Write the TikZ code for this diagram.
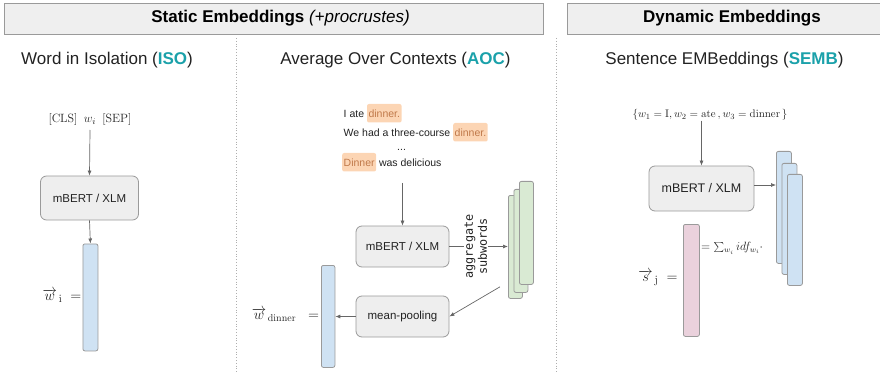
\documentclass[tikz,border=0pt]{standalone}
\usepackage[no-math]{fontspec}
\setmainfont{Liberation Sans}
\newfontfamily\monof{DejaVu Sans Mono}
\usetikzlibrary{arrows.meta,calc}
\definecolor{tealc}{HTML}{1BA1AA}
\definecolor{headfill}{HTML}{EFEFEF}
\definecolor{linegray}{HTML}{9A9A9A}
\definecolor{boxfill}{HTML}{EEEEEE}
\definecolor{arrgray}{HTML}{666666}
\definecolor{bluef}{HTML}{CFE2F3}
\definecolor{greenf}{HTML}{D9EAD3}
\definecolor{pinkf}{HTML}{EAD1DC}
\definecolor{hlfill}{HTML}{FCD5B4}
\definecolor{hltext}{HTML}{C0794A}
\definecolor{txt}{HTML}{222222}
\begin{document}
\begin{tikzpicture}[x=1pt,y=-1pt,
  head/.style={draw=linegray, fill=headfill, line width=0.9pt, inner sep=0pt, anchor=north west},
  title/.style={font=\fontsize{17}{19}\selectfont, text=black, inner sep=0pt},
  sub/.style={font=\fontsize{17}{19}\selectfont, text=txt, inner sep=0pt},
  mbox/.style={draw=linegray, fill=boxfill, rounded corners=6pt, line width=0.8pt, inner sep=0pt, font=\fontsize{11.5}{13}\selectfont, text=txt},
  bar/.style={draw=linegray, rounded corners=2pt, line width=0.8pt, inner sep=0pt, anchor=north west},
  arr/.style={draw=arrgray, line width=0.7pt, -{Latex[length=5pt,width=4pt]}},
  sep/.style={draw=linegray!80, line width=0.8pt, dotted},
  stxt/.style={font=\fontsize{10.5}{12}\selectfont, text=txt, inner sep=0pt, anchor=base west},
  hl/.style={fill=hlfill, rounded corners=2pt, text=hltext, font=\fontsize{10.5}{12}\selectfont, inner xsep=1.5pt, inner ysep=0pt, text height=14pt, text depth=4.5pt, anchor=base west},
  mlab/.style={inner sep=0pt, text=txt}
]
\useasboundingbox (0,0) rectangle (880,374);
\clip (0,0) rectangle (880,374);

% headers
\node[head, minimum width=539pt, minimum height=31pt] (h1) at (4,3) {};
\node[head, minimum width=320pt, minimum height=31pt] (h2) at (567,3) {};
\node[title] (t1) at (280.5,18.5) {\textbf{Static Embeddings} \textit{(+procrustes)}};
\node[title] (t2) at (732,18.5) {\textbf{Dynamic Embeddings}};

% separators
\coordinate (d1a) at (236,38); \coordinate (d1b) at (236,374);
\coordinate (d2a) at (556,38); \coordinate (d2b) at (556,374);
\draw[sep] (d1a) -- (d1b);
\draw[sep] (d2a) -- (d2b);

% subtitles
\node[sub] (st1) at (107,60) {Word in Isolation (\textcolor{tealc}{\textbf{ISO}})};
\node[sub] (st2) at (395.5,60) {Average Over Contexts (\textcolor{tealc}{\textbf{AOC}})};
\node[sub] (st3) at (724.5,60) {Sentence EMBeddings (\textcolor{tealc}{\textbf{SEMB}})};

% ---------- ISO ----------
\node[mlab, font=\fontsize{13}{15}\selectfont] (cls) at (90,120) {$[\mathrm{CLS}]\enspace w_i\enspace[\mathrm{SEP}]$};
\node[mbox, minimum width=98pt, minimum height=44pt] (m1) at (89.5,198) {mBERT / XLM};
\node[bar, fill=bluef, minimum width=15pt, minimum height=107pt] (b1) at (82.5,243.5) {};
\node[mlab, font=\fontsize{15}{17}\selectfont] (wl1) at (62,296) {$\overrightarrow{w}_{\,\mathrm{i}}\;=$};
\draw[arr] (cls.south |- 0,130) -- (m1.north);
\draw[arr] (m1.south) -- (b1.north);

% ---------- AOC ----------
\node[stxt] (s1a) at (343.5,118) {I ate};
\node[hl] (s1b) at ([xshift=2.5pt]s1a.base east) {dinner.};
\node[stxt] (s2a) at (343.5,137) {We had a three-course};
\node[hl] (s2b) at ([xshift=2.5pt]s2a.base east) {dinner.};
\node[stxt] (s3) at (397,151) {...};
\node[hl, text=hltext] (s4a) at (342,167) {Dinner};
\node[stxt] (s4b) at ([xshift=2.5pt]s4a.base east) {was delicious};
\coordinate (sbot) at (402.5,183);

\node[mbox, minimum width=93pt, minimum height=41pt] (m2) at (402.5,246.5) {mBERT / XLM};
\node[mbox, minimum width=93pt, minimum height=41pt] (m3) at (402.5,316.5) {mean-pooling};
\draw[arr] (sbot) -- (m2.north);

\node[bar, fill=greenf, minimum width=14pt, minimum height=103pt] (g1) at (508,195) {};
\node[bar, fill=greenf, minimum width=14pt, minimum height=103pt] (g2) at (513.5,189) {};
\node[bar, fill=greenf, minimum width=14pt, minimum height=103pt] (g3) at (519,181) {};

\draw[arr] (m2.east) -- node[pos=0.45, rotate=90, fill=white, inner xsep=1pt, inner ysep=1pt, align=center, font=\monof\fontsize{11.8}{14}\selectfont, text=txt] (agg) {aggregate\\subwords} (m2.east -| g1.west);

\node[bar, fill=bluef, minimum width=13.5pt, minimum height=102pt] (b2) at (321,265) {};
\node[mlab, font=\fontsize{14.5}{16}\selectfont] (wl2) at (285.5,315) {$\overrightarrow{w}_{\,\mathrm{dinner}}\;\;=$};
\draw[arr] ([shift={(-8,-12)}]g1.south west) -- (m3.east);
\draw[arr] (m3.west) -- (m3.west -| b2.east);

% ---------- SEMB ----------
\node[mlab, font=\fontsize{11}{13}\selectfont] (wset) at (710,115) {$\{w_1=\mathrm{I}, w_2=\mathrm{ate}\,, w_3=\mathrm{dinner}\,\}$};
\node[mbox, minimum width=105pt, minimum height=45pt, font=\fontsize{12.5}{14}\selectfont] (m4) at (701.5,188.5) {mBERT / XLM};
\draw[arr] (wset.south -| m4.north) -- (m4.north);

\node[bar, fill=bluef, minimum width=15pt, minimum height=112pt] (c1) at (776,151) {};
\node[bar, fill=bluef, minimum width=15pt, minimum height=111pt] (c2) at (781.5,163) {};
\node[bar, fill=bluef, minimum width=15pt, minimum height=111pt] (c3) at (787,174) {};
\draw[arr] ([yshift=3.5pt]m4.east) -- ([yshift=3.5pt]m4.east -| c1.west);

\node[bar, fill=pinkf, minimum width=16pt, minimum height=112pt] (p1) at (683,224) {};
\node[mlab, font=\fontsize{12}{14}\selectfont, anchor=west] (sumlab) at (701,248) {$=\sum_{w_i} idf_{w_i}\cdot$};
\node[mlab, font=\fontsize{15}{17}\selectfont] (sl) at (658,278) {$\overrightarrow{s}_{\,\mathrm{j}}\;=$};
\end{tikzpicture}
\end{document}
